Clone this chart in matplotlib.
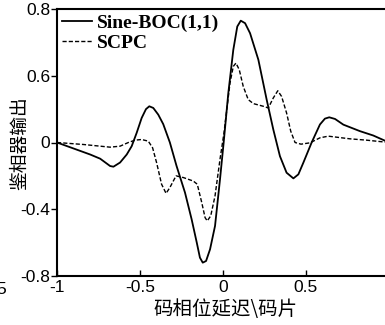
import matplotlib
matplotlib.use("Agg")
import matplotlib.pyplot as plt

# Sine-BOC(1,1) discriminator output
boc_x = [-1, -0.80, -0.74, -0.68, -0.66, -0.62, -0.58, -0.55, -0.52, -0.49, -0.464, -0.444,
         -0.42, -0.39, -0.36, -0.32, -0.28, -0.229, -0.189, -0.158, -0.139, -0.122, -0.102,
         -0.078, -0.048, -0.018, 0.004, 0.032, 0.062, 0.086, 0.107, 0.133, 0.163, 0.213,
         0.263, 0.303, 0.343, 0.383, 0.424, 0.454, 0.484, 0.534, 0.584, 0.614, 0.64, 0.675,
         0.725, 0.825, 0.905, 1.0]
boc_y = [0, -0.072, -0.097, -0.141, -0.145, -0.12, -0.072, -0.022, 0.058, 0.147, 0.2, 0.217,
         0.207, 0.167, 0.11, 0.0, -0.14, -0.30, -0.46, -0.60, -0.69, -0.72, -0.71,
         -0.64, -0.50, -0.22, 0.0, 0.296, 0.555, 0.695, 0.73, 0.715, 0.655, 0.496,
         0.257, 0.078, -0.082, -0.181, -0.215, -0.191, -0.121, 0.0, 0.108, 0.143, 0.151, 0.141,
         0.107, 0.068, 0.042, 0.0]

# SCPC discriminator output
scpc_x = [-1, -0.84, -0.68, -0.62, -0.57, -0.53, -0.49, -0.45, -0.424, -0.40, -0.37, -0.343,
          -0.32, -0.283, -0.239, -0.179, -0.155, -0.128, -0.108, -0.095, -0.074, -0.048,
          -0.018, 0.006, 0.042, 0.062, 0.078, 0.098, 0.122, 0.152, 0.183, 0.243, 0.273,
          0.303, 0.33, 0.353, 0.383, 0.408, 0.434, 0.47, 0.524, 0.584, 0.634, 0.765, 0.865, 1.0]
scpc_y = [0, -0.012, -0.028, -0.022, 0.0, 0.014, 0.018, 0.008, -0.032, -0.121, -0.25, -0.305,
          -0.27, -0.2, -0.21, -0.231, -0.25, -0.36, -0.45, -0.47, -0.44, -0.32,
          -0.10, 0.058, 0.356, 0.456, 0.476, 0.436, 0.336, 0.257, 0.233, 0.217, 0.207,
          0.267, 0.31, 0.276, 0.177, 0.068, 0.0, -0.01, -0.002, 0.028, 0.038, 0.022, 0.014, 0.0]

series_labels = ["Sine-BOC(1,1)", "SCPC"]
xticks = [-1, -0.5, 0, 0.5, 1]
xtick_labels = ["-1", "-0.5", "0", "0.5", "1"]
yticks = [0.8, 0.4, 0, -0.4, -0.8]
ytick_labels = ["0.8", "0.6", "0", "-0.4", "-0.8"]
xlabel = "码相位延迟\\码片"
ylabel = "鉴相器输出"

W, H = 385, 325
fig = plt.figure(figsize=(W / 100, H / 100), dpi=100)
left, right, top, bottom = 57, 389, 9, 276
ax = fig.add_axes([left / W, 1 - bottom / H, (right - left) / W, (bottom - top) / H])

ax.plot(boc_x, boc_y, color="black", lw=1.3, linestyle="-", label=series_labels[0])
ax.plot(scpc_x, scpc_y, color="black", lw=1.0, linestyle=(0, (3, 1.5)), label=series_labels[1])

ax.set_xlim(-1, 1)
ax.set_ylim(-0.8, 0.8)
ax.set_xticks(xticks)
ax.set_xticklabels(xtick_labels)
ax.set_yticks(yticks)
ax.set_yticklabels(ytick_labels)

tick_font = "Liberation Sans"
for lab in ax.get_xticklabels() + ax.get_yticklabels():
    lab.set_family(tick_font)
    lab.set_fontsize(12.5)
ax.tick_params(axis="x", direction="in", length=4, width=1, pad=3)
ax.tick_params(axis="y", direction="out", length=4, width=1, pad=1)
for s in ax.spines.values():
    s.set_linewidth(1.5)

cjk = ["Noto Sans CJK SC", "DejaVu Sans"]
ax.set_xlabel(xlabel, family=cjk, fontsize=14)
ax.xaxis.set_label_coords((225 - left) / (right - left), -(310 - bottom) / (bottom - top))
ax.xaxis.label.set_va("center")
ax.set_ylabel(ylabel, family=cjk, fontsize=13.5)
ax.yaxis.set_label_coords(-(left - 20) / (right - left), (bottom - 143) / (bottom - top))
ax.yaxis.label.set_va("center")

leg = ax.legend(loc="upper left", frameon=False, handlelength=1.55, handletextpad=0.25,
                borderaxespad=0.0, borderpad=0.25, labelspacing=0.15,
                prop={"family": "Liberation Serif", "weight": "bold", "size": 14})

fig.text(6 / W, 1 - 289 / H, "5", ha="right", va="center", family=tick_font, fontsize=12.5)

fig.savefig("out.png", dpi=100)
